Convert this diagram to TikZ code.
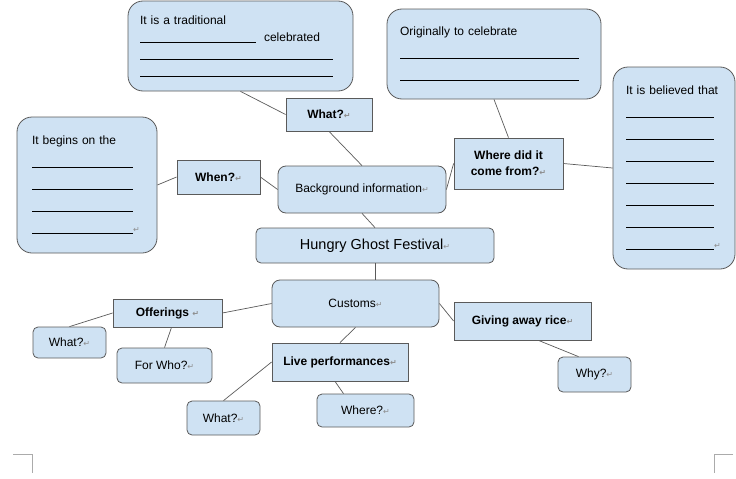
\documentclass[tikz,border=0pt]{standalone}
\usepackage{fontspec}
\setmainfont{Liberation Sans}
\newfontfamily\retfont{DejaVu Sans}
\usepackage{tikz}
\usetikzlibrary{positioning}
\definecolor{boxblue}{HTML}{CFE2F3}
\definecolor{edgegray}{HTML}{5A5A5A}
\definecolor{markgray}{HTML}{ABABAB}
\definecolor{retgray}{HTML}{8C8C8C}
\newcommand{\ret}{{\retfont\fontsize{8}{8}\selectfont\textcolor{retgray}{↵}}}
\newcommand{\blank}[1]{\rule[-1pt]{#1}{0.7pt}}
\tikzstyle{callout} = [rectangle, rounded corners=15pt, draw=edgegray, fill=boxblue, line width=0.8pt, align=left, inner xsep=12pt, font=\fontsize{12}{22}\selectfont]
\tikzstyle{question} = [rectangle, draw=edgegray, fill=boxblue, line width=0.8pt, align=center, inner sep=2pt, font=\bfseries\fontsize{12}{16}\selectfont]
\tikzstyle{answer} = [rectangle, rounded corners=5pt, draw=edgegray, fill=boxblue, line width=0.8pt, inner sep=2pt, font=\fontsize{12}{15}\selectfont]
\tikzstyle{topic} = [rectangle, rounded corners=8pt, draw=edgegray, fill=boxblue, line width=0.8pt, inner sep=2pt, font=\fontsize{12}{15}\selectfont]
\tikzstyle{link} = [draw=edgegray, line width=0.7pt]
\tikzstyle{cropmark} = [draw=markgray, line width=0.8pt]

\begin{document}
\begin{tikzpicture}[x=1pt, y=-1pt]
    \useasboundingbox (0,0) rectangle (736,479);

    % background information branch
    \node (tradbox) [callout, minimum width=225pt, minimum height=90pt, text width=201pt, font=\fontsize{12}{17}\selectfont] at (240.5,46)
        {It is a traditional\\ \blank{116pt}\ \ celebrated\\ \blank{193pt}\\ \blank{193pt}};
    \node (whatq) [question, minimum width=86pt, minimum height=33pt] at (329,114.5) {What?\ret};
    \node (whenbox) [callout, inner xsep=15pt, minimum width=140pt, minimum height=136pt, text width=110pt] at (87,185)
        {It begins on the\\ \blank{101pt}\\ \blank{101pt}\\ \blank{101pt}\\ \blank{101pt}\ret};
    \node (whenq) [question, minimum width=83pt, minimum height=34pt] at (218.5,177) {When?\ret};
    \node (bginfo) [topic, minimum width=168pt, minimum height=47pt] at (362,189.5) {Background information\ret};
    \node (whereq) [question, minimum width=109pt, minimum height=51pt] at (508.5,163.5) {Where did it\\ come from?\ret};
    \node (origbox) [callout, inner xsep=13pt, minimum width=214pt, minimum height=90pt, text width=188pt] at (494,54)
        {Originally to celebrate\\ \blank{179pt}\\ \blank{179pt}};
    \node (belbox) [callout, inner xsep=13pt, minimum width=122pt, minimum height=202pt, text width=96pt] at (674,168)
        {It is believed that\\ \blank{88pt}\\ \blank{88pt}\\ \blank{88pt}\\ \blank{88pt}\\ \blank{88pt}\\ \blank{88pt}\\ \blank{88pt}\ret};

    % centre
    \node (hungry) [answer, minimum width=238pt, minimum height=35pt, font=\fontsize{14.5}{17}\selectfont] at (375,245.5) {Hungry Ghost Festival\ret};

    % customs branch
    \node (customs) [topic, minimum width=167pt, minimum height=47pt] at (355.5,303.5) {Customs\ret};
    \node (offer) [question, minimum width=109pt, minimum height=28pt] at (167.5,313) {Offerings \ret};
    \node (offwhat) [answer, minimum width=73pt, minimum height=31pt] at (69.5,342.5) {What?\ret};
    \node (forwho) [answer, minimum width=95pt, minimum height=35pt] at (164.5,365.5) {For Who?\ret};
    \node (live) [question, minimum width=136pt, minimum height=38pt] at (340,362) {Live performances\ret};
    \node (livewhat) [answer, minimum width=73pt, minimum height=34pt] at (223.5,418) {What?\ret};
    \node (livewhere) [answer, minimum width=97pt, minimum height=33pt] at (365.5,410.5) {Where?\ret};
    \node (rice) [question, minimum width=137pt, minimum height=38pt] at (522.5,321) {Giving away rice\ret};
    \node (why) [answer, minimum width=73pt, minimum height=35pt] at (594.5,374.5) {Why?\ret};

    \draw [link] (tradbox.south) -- (whatq.west);
    \draw [link] (whatq.south) -- (bginfo.north);
    \draw [link] (whenbox.east) -- (whenq.west);
    \draw [link] (whenq.east) -- (bginfo.west);
    \draw [link] (bginfo.east) -- (whereq.west);
    \draw [link] (whereq.north) -- (origbox.south);
    \draw [link] (whereq.east) -- (belbox.west);
    \draw [link] (bginfo.south) -- (hungry.north);
    \draw [link] (hungry.south) -- (hungry.south |- customs.north);
    \draw [link] (customs.west) -- (offer.east);
    \draw [link] (offer.west) -- (offwhat.north);
    \draw [link] ([xshift=4pt]offer.south) -- (forwho.north);
    \draw [link] (customs.south) -- (live.north);
    \draw [link] (live.west) -- (livewhat.north);
    \draw [link] ([xshift=-5pt]live.south) -- ([xshift=-22pt]livewhere.north);
    \draw [link] (customs.east) -- (rice.west);
    \draw [link] ([xshift=16pt]rice.south) -- ([xshift=-16pt]why.north);

    % page corners
    \draw [cropmark] (13,454) -- (32,454) -- (32,473);
    \draw [cropmark] (733,454) -- (714,454) -- (714,473);
\end{tikzpicture}
\end{document}
